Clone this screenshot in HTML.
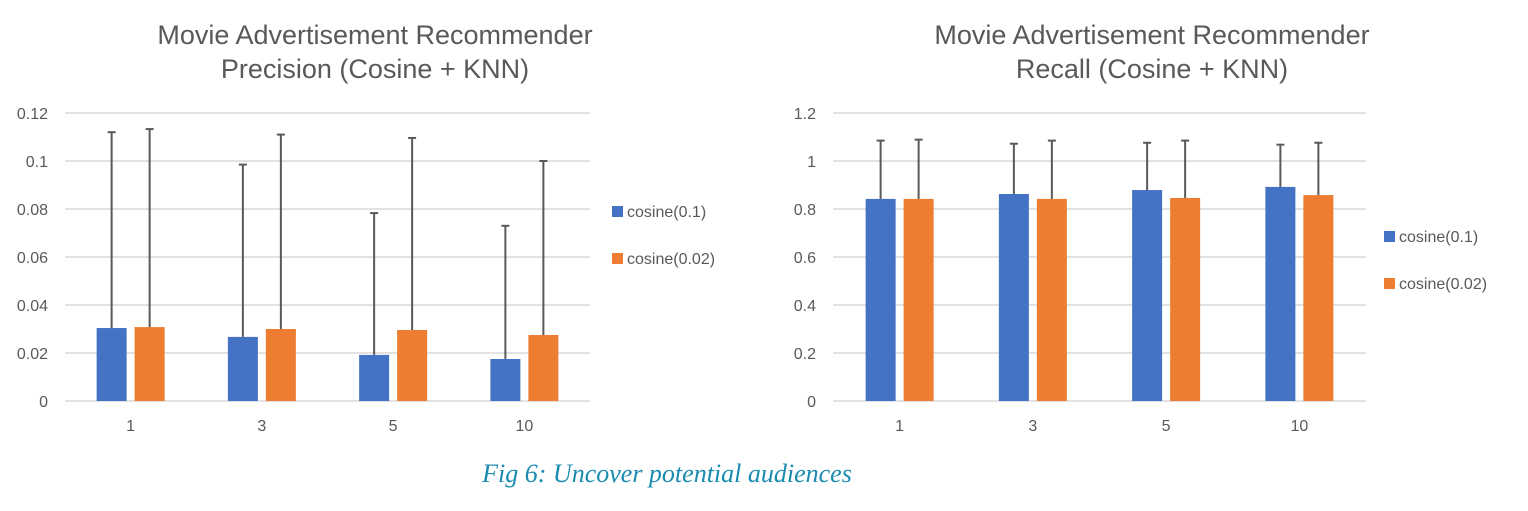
<!DOCTYPE html>
<html><head><meta charset="utf-8"><style>
body{margin:0;background:#fff;width:1528px;height:506px;overflow:hidden;font-family:"Liberation Sans",sans-serif}
svg text{font-family:"Liberation Sans",sans-serif}
</style></head><body>
<svg width="1528" height="506" viewBox="0 0 1528 506">
<g id="c1"></g>
<g id="c2"></g>
<text x="667" y="482" text-anchor="middle" fill="#1a8bb0" font-size="26" font-style="italic" style="font-family:'Liberation Serif',serif">Fig 6: Uncover potential audiences</text>
</svg>
<script>
const categories=["1","3","5","10"];
const precBlue=[0.0304,0.0267,0.0192,0.0175];
const precOrange=[0.0308,0.030,0.0296,0.0275];
const precBlueErr=[0.112,0.0985,0.0783,0.073];
const precOrangeErr=[0.1133,0.111,0.1096,0.100];
const precTicks=["0","0.02","0.04","0.06","0.08","0.1","0.12"];
const recBlue=[0.842,0.8625,0.879,0.892];
const recOrange=[0.842,0.842,0.846,0.858];
const recBlueErr=[1.085,1.072,1.076,1.068];
const recOrangeErr=[1.089,1.085,1.085,1.076];
const recTicks=["0","0.2","0.4","0.6","0.8","1","1.2"];
const seriesNames=["cosine(0.1)","cosine(0.02)"];
const NS="http://www.w3.org/2000/svg";
function mk(p,t,a,txt){const e=document.createElementNS(NS,t);for(const k in a)e.setAttribute(k,a[k]);if(txt!==undefined)e.textContent=txt;p.appendChild(e);return e;}
function draw(g,o){
  const y0=401,y1=113,ymax=o.max;
  const Y=v=>y0-(v/ymax)*(y0-y1);
  const cw=(o.x1-o.x0)/categories.length;
  const X=i=>o.x0+cw*(i+0.5);
  o.ticks.forEach((t,i)=>{const v=ymax*i/(o.ticks.length-1);
    const l=mk(g,'line',{x1:o.x0,x2:o.x1,y1:Y(v),y2:Y(v),stroke:'#d9d9d9','stroke-width':1.5});
    
    const tx=mk(g,'text',{x:o.tx,y:Y(v)+6,'text-anchor':'end','font-size':16,fill:'#595959'},t);
    });
  o.title.forEach((t,i)=>{const tt=mk(g,'text',{x:o.tc,y:44+i*34,'text-anchor':'middle','font-size':27,fill:'#595959'},t);
    });
  const bw=30,gap=8;
  categories.forEach((c,i)=>{
    const cx=X(i);
    [[o.b,o.be,'#4472c4',cx-gap/2-bw],[o.o,o.oe,'#ed7d31',cx+gap/2]].forEach((s,k)=>{
      const r=mk(g,'rect',{x:s[3],y:Y(s[0][i]),width:bw,height:Y(0)-Y(s[0][i]),fill:s[2]});
      
      const mx=s[3]+bw/2;
      const e=mk(g,'line',{x1:mx,x2:mx,y1:Y(s[0][i]),y2:Y(s[1][i]),stroke:'#595959','stroke-width':2});
      
      const cap=mk(g,'line',{x1:mx-4,x2:mx+4,y1:Y(s[1][i]),y2:Y(s[1][i]),stroke:'#595959','stroke-width':2});
      
    });
    const xl=mk(g,'text',{x:cx,y:431,'text-anchor':'middle','font-size':16,fill:'#595959'},c);
    
  });
  seriesNames.forEach((n,k)=>{
    const r=mk(g,'rect',{x:o.lx,y:o.ly+k*47,width:11,height:11,fill:k?'#ed7d31':'#4472c4'});
    
    const t=mk(g,'text',{x:o.lx+15,y:o.ly+k*47+11,'font-size':16,fill:'#595959'},n);
    
  });
}
draw(document.getElementById('c1'),{x0:65,x1:590,max:0.12,ticks:precTicks,b:precBlue,o:precOrange,be:precBlueErr,oe:precOrangeErr,tx:48,tc:375,title:["Movie Advertisement Recommender","Precision (Cosine + KNN)"],lx:612,ly:206});
draw(document.getElementById('c2'),{x0:833,x1:1366,max:1.2,ticks:recTicks,b:recBlue,o:recOrange,be:recBlueErr,oe:recOrangeErr,tx:816,tc:1152,title:["Movie Advertisement Recommender","Recall (Cosine + KNN)"],lx:1384,ly:231});
</script>
</body></html>
